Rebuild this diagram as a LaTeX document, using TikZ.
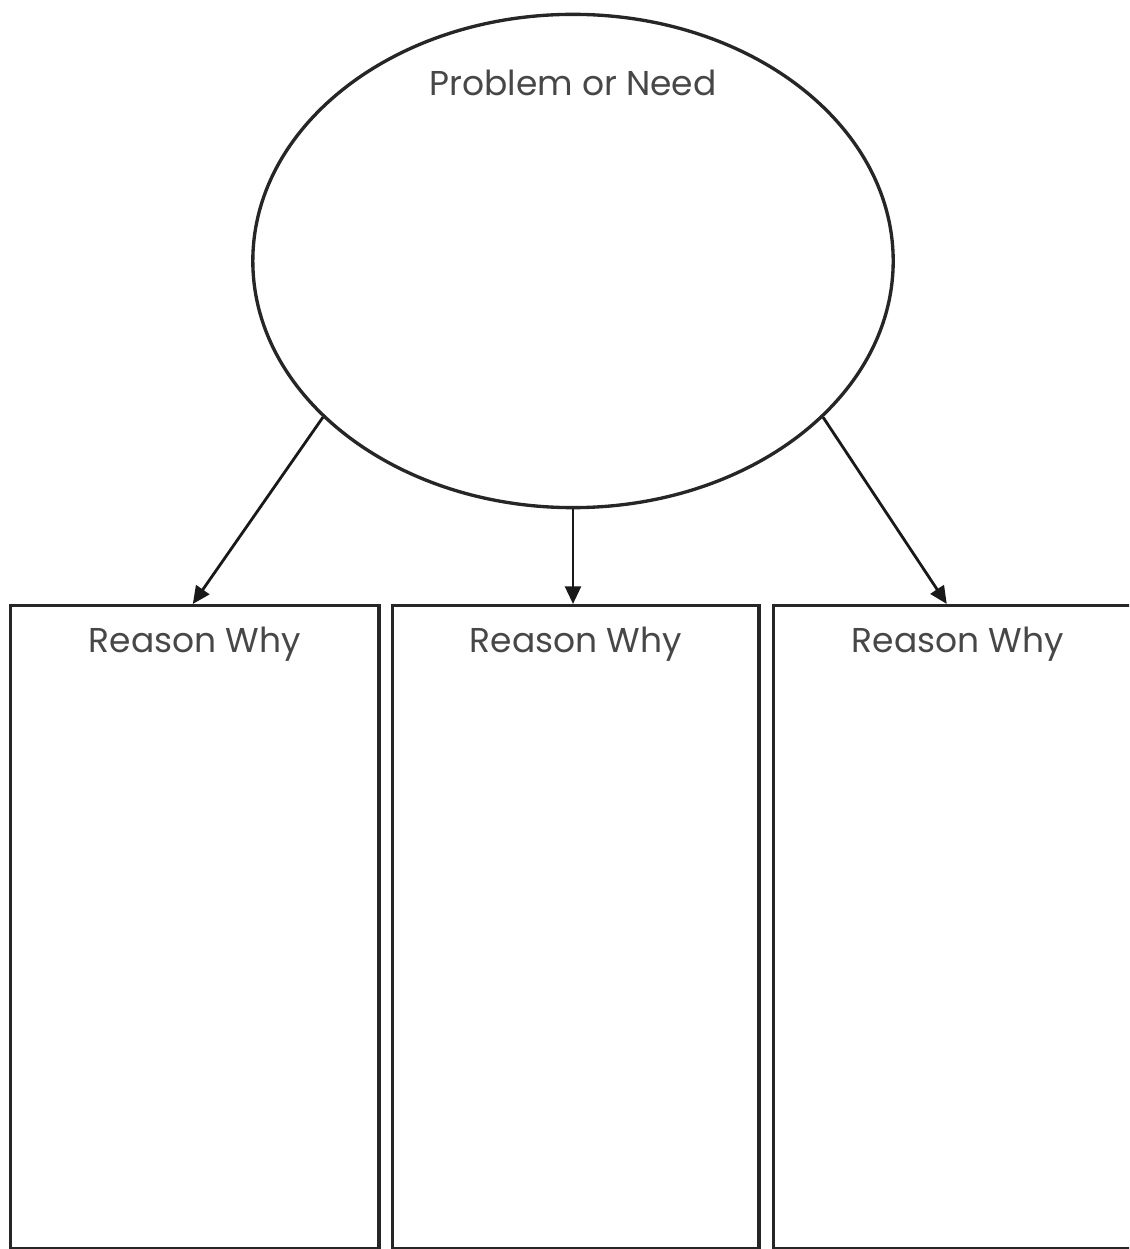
\documentclass[tikz,border=0pt]{standalone}
\usepackage{fontspec}
\setmainfont{Poppins}
\usetikzlibrary{arrows.meta, positioning, shapes.geometric}

\begin{document}
\begin{tikzpicture}[x=0.01cm, y=-0.01cm,
  outline/.style={line width=0.95pt, draw=black!85},
  reason/.style={outline, rectangle, minimum width=3.68cm, minimum height=6.43cm, anchor=north west},
  tag/.style={text=black!72, font=\fontsize{9.8}{11}\selectfont},
  link/.style={line width=0.8pt, draw=black!90, -{Triangle[length=5pt, width=4.5pt]}}]
\clip (0,0) rectangle (1129,1249);
% Central oval
\node[outline, ellipse, minimum width=6.4cm, minimum height=4.93cm] (need) at (573,261) {};
\node[tag] (needtext) at ([yshift=-0.70cm]need.north) {Problem or Need};
% Three columns, the last one runs off the page
\node[reason] (why1) at (9,604) {};
\node[reason, minimum width=3.66cm] (why2) at (391,604) {};
\node[reason] (why3) at (772,604) {};
\node[tag] (whytext1) at ([yshift=-0.40cm]why1.north) {Reason Why};
\node[tag] (whytext2) at ([yshift=-0.40cm]why2.north) {Reason Why};
\node[tag] (whytext3) at ([yshift=-0.40cm]why3.north) {Reason Why};
% Arrows from oval down to columns
\draw[link] (need.212) -- ([xshift=-0.02cm]why1.north);
\draw[link] (need.south) -- (need.south |- why2.north);
\draw[link] (need.328) -- ([xshift=-0.11cm]why3.north);
\end{tikzpicture}
\end{document}
